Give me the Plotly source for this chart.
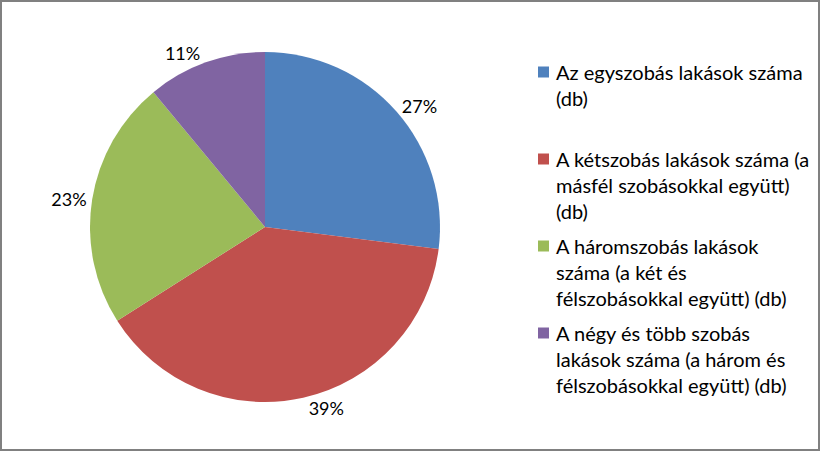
import plotly.graph_objects as go

# Lakások szobaszám szerint (megoszlás, %)
labels = [
    "Az egyszobás lakások száma<br>(db)",
    "A kétszobás lakások száma (a<br>másfél szobásokkal együtt)<br>(db)",
    "A háromszobás lakások<br>száma (a két és<br>félszobásokkal együtt) (db)",
    "A négy és több szobás<br>lakások száma (a három és<br>félszobásokkal együtt) (db)",
]
shares = [27, 39, 23, 11]
colours = ["#4F81BD", "#C0504D", "#9BBB59", "#8064A2"]

W, H = 820, 451
font_family = "Lato, 'Open Sans', sans-serif"

fig = go.Figure()
fig.add_trace(go.Pie(
    labels=labels,
    values=shares,
    sort=False,
    direction="clockwise",
    rotation=0,
    marker=dict(colors=colours, line=dict(width=0)),
    textinfo="percent",
    texttemplate="%{percent:.0%}",
    textposition="outside",
    textfont=dict(size=18, color="#000000", family=font_family),
    domain=dict(x=[90 / W, 440 / W], y=[49 / H, 399 / H]),
    hoverinfo="label+percent",
    showlegend=False,
))

# legend drawn by hand so entries get Excel-like even spacing
legend_top = 72      # px, centre of first entry's first line
legend_step = 87     # px between entries
annotations = []
shapes = []
for i, (lab, col) in enumerate(zip(labels, colours)):
    yc = legend_top + i * legend_step
    shapes.append(dict(
        type="rect", xref="paper", yref="paper",
        x0=538 / W, x1=549 / W,
        y0=1 - (yc + 5.5) / H, y1=1 - (yc - 5.5) / H,
        line=dict(width=0), fillcolor=col,
    ))
    annotations.append(dict(
        text=lab, xref="paper", yref="paper",
        x=554 / W, y=1 - (yc - 14) / H,
        xanchor="left", yanchor="top", align="left",
        showarrow=False,
        font=dict(size=20, color="#000000", family=font_family),
    ))

# chart border
shapes.append(dict(
    type="rect", xref="paper", yref="paper",
    x0=0, y0=0, x1=1, y1=1,
    line=dict(color="#808080", width=4),
    fillcolor="rgba(0,0,0,0)",
))

fig.update_layout(
    width=W, height=H,
    margin=dict(l=0, r=0, t=0, b=0),
    paper_bgcolor="white",
    plot_bgcolor="white",
    font=dict(family=font_family, size=18, color="#000000"),
    showlegend=False,
    annotations=annotations,
    shapes=shapes,
)

fig.write_html("out.html", config={"displayModeBar": False},
               post_script="document.body.style.margin='0';")
